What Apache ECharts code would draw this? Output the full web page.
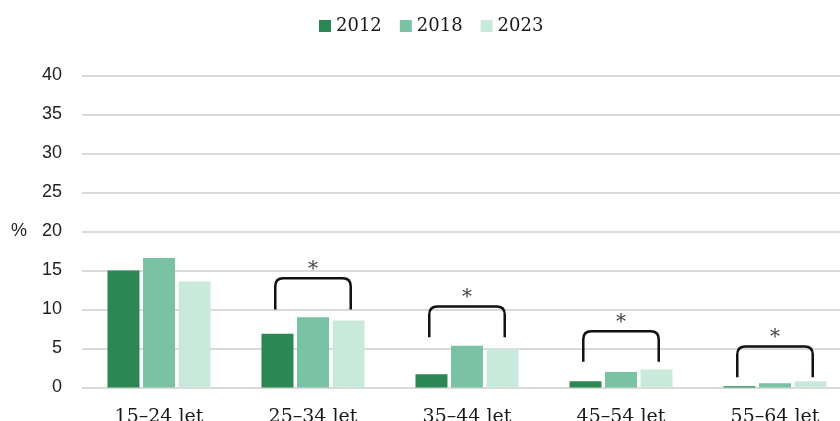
<!DOCTYPE html>
<html>
<head>
<meta charset="utf-8">
<script src="https://cdn.jsdelivr.net/npm/echarts@6/dist/echarts.min.js"></script>
<style>
    html, body { margin: 0; padding: 0; background: #fff; }
    #chart { width: 840px; height: 421px; }
</style>
</head>
<body>
<div id="chart"></div>
<script>
    // data
    var categories = ['15–24 let', '25–34 let', '35–44 let', '45–54 let', '55–64 let'];
    var years = ['2012', '2018', '2023'];
    var v2012 = [15.0, 6.9, 1.7, 0.8, 0.15];
    var v2018 = [16.6, 9.0, 5.35, 2.0, 0.55];
    var v2023 = [13.6, 8.6, 4.9, 2.3, 0.8];
    // significance brackets (category, leg bottom, bracket top)
    var bracketCats = ['25–34 let', '35–44 let', '45–54 let', '55–64 let'];
    var bracketLow = [10.0, 6.45, 3.3, 1.3];
    var bracketHigh = [14.0, 10.4, 7.2, 5.25];
    var bracketMark = '*';

    var colors = ['#2b8753', '#7ac2a4', '#c9eadb'];
    var serif = 'DejaVu Serif';
    var sans = 'Liberation Sans';

    var bracketData = bracketCats.map(function (c, i) {
        return [c, bracketLow[i], bracketHigh[i]];
    });

    function renderBracket(params, api) {
        var lo = api.coord([api.value(0), api.value(1)]);
        var hi = api.coord([api.value(0), api.value(2)]);
        var half = api.size([1, 0])[0] * 0.245;
        var l = lo[0] - half, r = lo[0] + half, t = hi[1], b = lo[1], k = 8;
        var d = 'M' + l + ',' + b + ' L' + l + ',' + (t + k) +
            ' Q' + l + ',' + t + ' ' + (l + k) + ',' + t +
            ' L' + (r - k) + ',' + t +
            ' Q' + r + ',' + t + ' ' + r + ',' + (t + k) +
            ' L' + r + ',' + b;
        return {
            type: 'group',
            children: [{
                type: 'path',
                shape: { pathData: d, x: l, y: t, width: r - l, height: b - t },
                style: { fill: null, stroke: '#111', lineWidth: 2.5 }
            }, {
                type: 'text',
                x: lo[0],
                y: t - 9,
                style: {
                    text: bracketMark,
                    font: '20px "' + serif + '"',
                    fill: '#444',
                    align: 'center',
                    verticalAlign: 'middle'
                }
            }]
        };
    }

    var myChart = echarts.init(document.getElementById('chart'));
    myChart.setOption({
        animation: false,
        color: colors,
        legend: {
            data: years,
            left: 319,
            top: 17,
            padding: 0,
            itemWidth: 12,
            itemHeight: 12,
            itemGap: 18,
            icon: 'rect',
            textStyle: { fontFamily: serif, fontSize: 18, color: '#1a1a1a' }
        },
        grid: {
            left: 82,
            width: 770,
            top: 75.5,
            bottom: 33.5,
            outerBoundsMode: 'none',
            containLabel: false
        },
        xAxis: {
            type: 'category',
            data: categories,
            axisLine: { show: false },
            axisTick: { show: false },
            axisLabel: { fontFamily: serif, fontSize: 19, color: '#1a1a1a', margin: 20 }
        },
        yAxis: {
            type: 'value',
            min: 0,
            max: 40,
            interval: 5,
            name: '%',
            nameLocation: 'middle',
            nameRotate: 0,
            nameGap: 55,
            nameTextStyle: { fontFamily: sans, fontSize: 18, color: '#222' },
            axisLine: { show: false },
            axisTick: { show: false },
            axisLabel: { fontFamily: sans, fontSize: 18, color: '#222', margin: 20 },
            splitLine: { lineStyle: { color: '#dadada', width: 2 } }
        },
        series: [{
            name: '2012',
            type: 'bar',
            data: v2012,
            barWidth: 32,
            barGap: '11%'
        }, {
            name: '2018',
            type: 'bar',
            data: v2018,
            barWidth: 32,
            barGap: '11%'
        }, {
            name: '2023',
            type: 'bar',
            data: v2023,
            barWidth: 32,
            barGap: '11%'
        }, {
            name: 'brackets',
            type: 'custom',
            renderItem: renderBracket,
            data: bracketData,
            z: 5,
            silent: true
        }]
    });
</script>
</body>
</html>
